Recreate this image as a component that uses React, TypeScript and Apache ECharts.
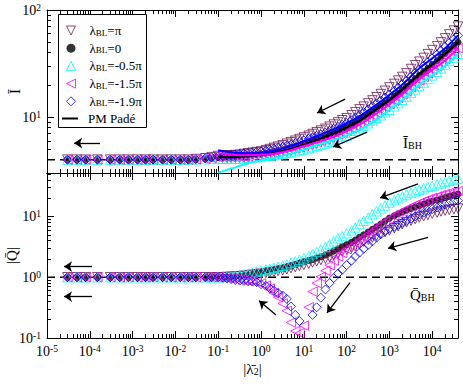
import React, { useEffect, useRef } from "react";
import * as echarts from "echarts";

const FONT = "'Liberation Serif', 'DejaVu Serif', serif";
const MAROON = "#6e1a55";

// axis ranges and reference levels
const xMin = 1e-5;
const xMax = 4e4;
const iMin = 3;
const iMax = 100;
const qMin = 0.1;
const qMax = 52;
const iBH = 4;
const qBH = 1;

// |lambda_2| sample points
const lambda2 = [
  3e-5, 5e-5, 8e-5, 1.5e-4, 3e-4, 5e-4, 8e-4, 1.3e-3, 2e-3, 3e-3, 5e-3, 8e-3, 0.013, 0.02, 0.03, 0.05, 0.07,
  0.1, 0.13, 0.16, 0.2, 0.25, 0.32, 0.4, 0.5, 0.63, 0.79,
  1, 1.3, 1.6, 2, 2.5, 3.2, 4, 5, 6.3, 7.9,
  10, 13, 16, 20, 25, 32, 40, 50, 63, 79,
  100, 130, 160, 200, 250, 320, 400, 500, 630, 790,
  1000, 1300, 1600, 2000, 2500, 3200, 4000, 5000, 6300, 7900,
  10000, 13000, 16000, 20000, 25000, 32000, 40000,
];

// top panel: I-bar
const iZero = [
  4, 4, 4, 4, 4, 4, 4, 4, 4, 4, 4, 4, 4, 4, 4.03, 4.08, 4.15,
  4.2, 4.21, 4.22, 4.23, 4.24, 4.25, 4.31, 4.36, 4.4, 4.45,
  4.5, 4.58, 4.66, 4.74, 4.83, 4.92, 5.05, 5.18, 5.31, 5.46,
  5.6, 5.78, 5.96, 6.15, 6.34, 6.55, 6.82, 7.1, 7.38, 7.69,
  8.0, 8.47, 8.95, 9.46, 10.0, 10.6, 11.3, 12.0, 12.8, 13.6,
  14.5, 15.6, 16.7, 18.0, 19.3, 21.1, 22.8, 24.5, 26.5, 28.6,
  31.0, 33.6, 36.3, 39.4, 42.7, 46.1, 50.0,
];
const iPi = [
  4, 4, 4, 4, 4, 4, 4, 4, 4, 4, 4, 4, 4, 4, 4.05, 4.12, 4.22,
  4.33, 4.35, 4.37, 4.39, 4.42, 4.44, 4.52, 4.58, 4.64, 4.7,
  4.77, 4.9, 5.02, 5.15, 5.29, 5.44, 5.63, 5.82, 6.01, 6.23,
  6.44, 6.69, 6.94, 7.2, 7.47, 7.76, 8.13, 8.51, 8.9, 9.33,
  9.76, 10.4, 11.1, 11.8, 12.5, 13.4, 14.3, 15.3, 16.4, 17.6,
  18.9, 20.4, 21.9, 23.7, 25.6, 28.1, 30.5, 32.9, 35.7, 38.7,
  42.2, 45.9, 49.8, 54.4, 59.2, 64.2, 70.0,
];
const iM05 = [
  4, 4, 4, 4, 4, 4, 4, 4, 4, 4, 4, 4, 4, 4, 4.02, 4.04, 4.06,
  4.07, 4.08, 4.08, 4.08, 4.08, 4.08, 4.13, 4.17, 4.2, 4.24,
  4.28, 4.32, 4.37, 4.42, 4.47, 4.53, 4.62, 4.7, 4.79, 4.89,
  4.98, 5.12, 5.24, 5.38, 5.52, 5.67, 5.87, 6.07, 6.27, 6.5,
  6.72, 7.09, 7.46, 7.86, 8.28, 8.75, 9.29, 9.83, 10.4, 11.1,
  11.7, 12.6, 13.5, 14.5, 15.5, 16.9, 18.2, 19.5, 21.0, 22.7,
  24.5, 26.5, 28.5, 30.9, 33.4, 36.0, 39.0,
];
const iM15 = [
  4, 4, 4, 4, 4, 4, 4, 4, 4, 4, 4, 4, 4, 4, 4.03, 4.08, 4.15,
  4.2, 4.2, 4.2, 4.2, 4.21, 4.21, 4.26, 4.3, 4.33, 4.37,
  4.41, 4.48, 4.55, 4.62, 4.69, 4.77, 4.89, 5.0, 5.12, 5.25,
  5.38, 5.53, 5.69, 5.85, 6.01, 6.19, 6.42, 6.67, 6.91, 7.17,
  7.44, 7.86, 8.29, 8.74, 9.22, 9.75, 10.4, 11.0, 11.7, 12.4,
  13.2, 14.2, 15.1, 16.3, 17.4, 19.0, 20.5, 22.0, 23.7, 25.5,
  27.6, 29.8, 32.2, 34.9, 37.7, 40.7, 44.0,
];
const iM19 = [
  4, 4, 4, 4, 4, 4, 4, 4, 4, 4, 4, 4, 4, 4, 4.05, 4.12, 4.2,
  4.28, 4.33, 4.37, 4.42, 4.46, 4.51, 4.57, 4.62, 4.66, 4.72,
  4.77, 4.86, 4.96, 5.05, 5.16, 5.26, 5.41, 5.56, 5.71, 5.89,
  6.05, 6.25, 6.46, 6.68, 6.9, 7.14, 7.45, 7.77, 8.09, 8.44,
  8.8, 9.33, 9.88, 10.5, 11.1, 11.8, 12.6, 13.4, 14.3, 15.2,
  16.2, 17.5, 18.8, 20.3, 21.8, 23.8, 25.8, 27.8, 30.1, 32.5,
  35.3, 38.4, 41.6, 45.3, 49.2, 53.3, 58.0,
];

// bottom panel: |Q-bar|
const qZero = [
  1, 1, 1, 1, 1, 1, 1, 1, 1, 1, 1, 1, 1, 1, 1, 1, 1,
  1.0, 1.01, 1.01, 1.02, 1.03, 1.05, 1.07, 1.09, 1.12, 1.16,
  1.2, 1.23, 1.27, 1.31, 1.36, 1.41, 1.47, 1.54, 1.62, 1.71,
  1.8, 1.88, 1.97, 2.07, 2.18, 2.32, 2.5, 2.72, 2.95, 3.2,
  3.45, 3.75, 4.1, 4.55, 5.0, 5.55, 6.15, 6.8, 7.55, 8.4,
  9.4, 10.3, 11.1, 11.9, 12.7, 13.5, 14.3, 15.1, 16.0, 16.9,
  17.8, 18.7, 19.6, 20.5, 21.5, 22.5, 23.5,
];
const qPi = [
  1, 1, 1, 1, 1, 1, 1, 1, 1, 1, 1, 1, 1, 1, 1, 1, 1,
  1.0, 1.0, 1.01, 1.02, 1.03, 1.04, 1.06, 1.08, 1.1, 1.12,
  1.15, 1.17, 1.2, 1.23, 1.27, 1.3, 1.35, 1.41, 1.47, 1.53,
  1.6, 1.67, 1.75, 1.83, 1.92, 2.02, 2.15, 2.3, 2.47, 2.65,
  2.85, 3.05, 3.28, 3.55, 3.85, 4.15, 4.5, 4.85, 5.2, 5.55,
  5.9, 6.4, 6.9, 7.45, 8.0, 8.5, 9.05, 9.6, 10.1, 10.6,
  11.1, 11.6, 12.1, 12.5, 12.9, 13.2, 13.5,
];
const qM05 = [
  1, 1, 1, 1, 1, 1, 1, 1, 1, 1, 1, 1, 1, 1, 1, 1, 1,
  1.0, 1.01, 1.02, 1.03, 1.05, 1.07, 1.1, 1.14, 1.18, 1.24,
  1.3, 1.34, 1.38, 1.43, 1.49, 1.55, 1.63, 1.72, 1.82, 1.93,
  2.05, 2.22, 2.4, 2.6, 2.88, 3.15, 3.5, 3.9, 4.35, 4.75,
  5.3, 5.9, 6.6, 7.5, 8.5, 9.6, 10.9, 12.2, 13.6, 15.2,
  17.0, 18.6, 20.0, 21.5, 23.0, 24.5, 26.0, 27.6, 29.2, 30.8,
  32.3, 33.8, 35.3, 37.0, 38.8, 40.5, 42.0,
];
const qM15 = [
  1, 1, 1, 1, 1, 1, 1, 1, 1, 1, 1, 1, 1, 1, 1, 1, 1,
  1.0, 0.99, 0.98, 0.96, 0.94, 0.92, 0.9, 0.88, 0.86, 0.84,
  0.79, 0.73, 0.65, 0.55, 0.47, 0.37, 0.28, 0.18, 0.13, 0.12,
  0.16, 0.32, 0.58, 0.8, 1.02, 1.28, 1.58, 1.88, 2.2, 2.5,
  2.9, 3.25, 3.65, 4.1, 4.6, 5.15, 5.8, 6.5, 7.3, 8.2,
  9.2, 10.2, 11.2, 12.2, 13.3, 14.4, 15.5, 16.7, 17.9, 19.1,
  20.3, 21.4, 22.5, 23.6, 24.6, 25.5, 26.3,
];
const qM19 = [
  1, 1, 1, 1, 1, 1, 1, 1, 1, 1, 1, 1, 1, 1, 1, 1, 1,
  1.0, 0.98, 0.96, 0.93, 0.9, 0.88, 0.87, 0.86, 0.85, 0.83,
  0.77, 0.72, 0.66, 0.6, 0.55, 0.5, 0.44, 0.33, 0.24, 0.19,
  null, null, 0.24, 0.32, 0.46, 0.63, 0.8, 0.97, 1.15, 1.33,
  1.58, 1.88, 2.2, 2.55, 2.95, 3.4, 3.9, 4.5, 5.1, 5.7,
  6.3, 6.8, 7.3, 7.9, 8.5, 9.2, 10.0, 10.8, 11.6, 12.4,
  13.2, 14.0, 14.8, 15.7, 16.6, 17.4, 18.2,
];

// PM Padé curves (top panel)
const padeX = [0.1, 0.2, 0.5, 1, 2, 5, 10, 20, 50, 100, 200, 500, 1000, 2000, 5000, 10000, 20000, 40000];
const padeZero = [4.25, 4.22, 4.3, 4.45, 4.65, 5.05, 5.55, 6.1, 7.0, 7.95, 9.2, 11.8, 14.4, 18.0, 25.3, 31.0, 38.5, 50.0];
const padeM19 = [4.9, 4.7, 4.6, 4.65, 4.85, 5.35, 5.95, 6.65, 7.7, 8.75, 10.2, 13.1, 16.1, 20.1, 28.5, 35.3, 44.0, 58.0];
const padeM15 = [4.6, 4.45, 4.4, 4.45, 4.55, 4.9, 5.35, 5.8, 6.55, 7.4, 8.5, 10.8, 13.1, 16.3, 22.6, 27.6, 33.8, 44.0];
const padeM05 = [3.02, 3.3, 3.7, 3.95, 4.15, 4.55, 4.95, 5.45, 6.1, 6.7, 7.6, 9.4, 11.7, 14.4, 20.0, 24.5, 30.0, 39.0];

// arrows [x1, y1, x2, y2] (from -> to, data coordinates)
const arrowsTop = [
  [92, 14.7, 20.3, 10.9],
  [300, 7.24, 48, 5.25],
  [1.73e-4, 5.71, 4.3e-5, 5.71],
];
const arrowsBottom = [
  [4660, 34.5, 603, 20.2],
  [7980, 4.55, 927, 2.99],
  [120, 0.817, 34.8, 0.26],
  [2.24, 0.24, 0.9, 0.41],
  [1.12e-4, 1.5, 2.5e-5, 1.5],
  [1.12e-4, 0.48, 2.5e-5, 0.48],
];

const legendLabels: Record<string, string> = {
  pi: "{l|λ}{s|BL}{l|=π}",
  zero: "{l|λ}{s|BL}{l|=0}",
  m05: "{l|λ}{s|BL}{l|=-0.5π}",
  m15: "{l|λ}{s|BL}{l|=-1.5π}",
  m19: "{l|λ}{s|BL}{l|=-1.9π}",
  pade: "PM Padé",
};

function pairs(xs: number[], ys: (number | null)[]) {
  return xs.map((x, i) => [x, ys[i]]).filter((p) => p[1] != null);
}

function majorTicks(lo: number, hi: number) {
  const out: number[] = [];
  for (let d = Math.floor(Math.log10(lo)) - 1; d <= Math.ceil(Math.log10(hi)) + 1; d++) {
    const v = Math.pow(10, d);
    if (v >= lo * 0.9999 && v <= hi * 1.0001) {
      out.push(Math.min(Math.max(v, lo * 1.000001), hi / 1.000001));
    }
  }
  return out;
}
function minorTicks(lo: number, hi: number) {
  const out: number[] = [];
  for (let d = Math.floor(Math.log10(lo)) - 1; d <= Math.ceil(Math.log10(hi)) + 1; d++) {
    for (let k = 2; k <= 9; k++) {
      const v = k * Math.pow(10, d);
      if (v > lo * 1.0001 && v < hi / 1.0001) out.push(v);
    }
  }
  return out;
}

const labelRich = {
  b: { fontFamily: FONT, fontSize: 14, lineHeight: 14, verticalAlign: "bottom", padding: [2, 0, 0, 0], color: "#000" },
  e: { fontFamily: FONT, fontSize: 9.5, lineHeight: 10, verticalAlign: "top", color: "#000" },
};
const powFormatter = (v: number) => `{b|10}{e|${Math.round(Math.log10(v))}}`;

function axis(gridIndex: number, position: string, min: number, max: number, values: number[], len: number, labels: boolean, extra: any = {}) {
  return {
    type: "log",
    logBase: 10,
    gridIndex,
    position,
    min,
    max,
    nameMoveOverlap: false,
    axisLine: { show: len > 5, onZero: false, lineStyle: { color: "#000", width: 1 } },
    axisTick: { show: true, inside: true, length: len, customValues: values, lineStyle: { color: "#000", width: 1 } },
    axisLabel: labels
      ? { show: true, customValues: values, formatter: powFormatter, rich: labelRich, margin: 6, color: "#000" }
      : { show: false },
    splitLine: { show: false },
    minorTick: { show: false },
    minorSplitLine: { show: false },
    ...extra,
  };
}

const MAJ = 7;
const MIN = 4;
const xMaj = majorTicks(xMin, xMax);
const xMinr = minorTicks(xMin, xMax);
const iMaj = majorTicks(iMin, iMax);
const iMinr = minorTicks(iMin, iMax);
const qMaj = majorTicks(qMin, qMax);
const qMinr = minorTicks(qMin, qMax);

const xAxes = [
  axis(0, "bottom", xMin, xMax, xMaj, MAJ, false),
  axis(0, "bottom", xMin, xMax, xMinr, MIN, false),
  axis(0, "top", xMin, xMax, xMaj, MAJ, false),
  axis(0, "top", xMin, xMax, xMinr, MIN, false),
  axis(1, "bottom", xMin, xMax, xMaj, MAJ, true, {
    name: "|λ\u0304{sub|2}|",
    nameLocation: "middle",
    nameGap: 23,
    nameTextStyle: {
      fontFamily: FONT,
      fontSize: 15,
      color: "#000",
      rich: {
        sub: { fontFamily: FONT, fontSize: 10, lineHeight: 10, verticalAlign: "bottom", padding: [8, 0, 0, 0] },
      },
    },
  }),
  axis(1, "bottom", xMin, xMax, xMinr, MIN, false),
  axis(1, "top", xMin, xMax, xMaj, MAJ, false),
  axis(1, "top", xMin, xMax, xMinr, MIN, false),
];
const yAxes = [
  axis(0, "left", iMin, iMax, iMaj, MAJ, true, {
    name: "Ī",
    nameLocation: "middle",
    nameGap: 25,
    nameTextStyle: { fontFamily: FONT, fontSize: 15, color: "#000" },
  }),
  axis(0, "left", iMin, iMax, iMinr, MIN, false),
  axis(0, "right", iMin, iMax, iMaj, MAJ, false),
  axis(0, "right", iMin, iMax, iMinr, MIN, false),
  axis(1, "left", qMin, qMax, qMaj, MAJ, true, {
    name: "|Q\u0304|",
    nameLocation: "middle",
    nameGap: 28,
    nameTextStyle: { fontFamily: FONT, fontSize: 15, color: "#000" },
  }),
  axis(1, "left", qMin, qMax, qMinr, MIN, false),
  axis(1, "right", qMin, qMax, qMaj, MAJ, false),
  axis(1, "right", qMin, qMax, qMinr, MIN, false),
];

const markerDefs = [
  { name: "zero", top: iZero, bottom: qZero, symbol: "circle", rotate: 0, size: 7, color: "#000", hollow: false, icon: "circle" },
  { name: "pi", top: iPi, bottom: qPi, symbol: "triangle", rotate: 180, size: 9.5, color: MAROON, hollow: true, icon: "path://M0,0L10,0L5,10Z" },
  { name: "m05", top: iM05, bottom: qM05, symbol: "triangle", rotate: 0, size: 9.5, color: "#00ffff", hollow: true, icon: "path://M5,0L10,10L0,10Z" },
  { name: "m15", top: iM15, bottom: qM15, symbol: "triangle", rotate: 90, size: 9.5, color: "#ff00ff", hollow: true, icon: "path://M10,0L10,10L0,5Z" },
  { name: "m19", top: iM19, bottom: qM19, symbol: "diamond", rotate: 0, size: 9, color: "#0000ff", hollow: true, icon: "path://M5,0L10,5L5,10L0,5Z" },
];
const legendOrder = ["pi", "zero", "m05", "m15", "m19"];

function scatter(def: any, panel: number) {
  return {
    type: "scatter",
    name: def.name,
    xAxisIndex: panel * 4,
    yAxisIndex: panel * 4,
    data: pairs(lambda2, panel === 0 ? def.top : def.bottom),
    symbol: def.symbol,
    symbolRotate: def.rotate,
    symbolSize: def.size,
    itemStyle: def.hollow
      ? { color: "rgba(255,255,255,0)", borderColor: def.color, borderWidth: 1 }
      : { color: def.color, borderColor: def.color, borderWidth: 0 },
    emphasis: { disabled: true },
    silent: true,
    z: 3,
  };
}

function padeLine(name: string, ys: number[], color: string) {
  return {
    type: "line",
    name,
    xAxisIndex: 0,
    yAxisIndex: 0,
    data: pairs(padeX, ys),
    symbol: "none",
    showSymbol: false,
    smooth: 0.3,
    lineStyle: { color, width: 2 },
    itemStyle: { color },
    emphasis: { disabled: true },
    silent: true,
    z: 4,
  };
}

function refLine(name: string, panel: number, level: number, arrows: number[][]) {
  return {
    type: "line",
    name,
    xAxisIndex: panel * 4,
    yAxisIndex: panel * 4,
    data: [
      [xMin, level],
      [xMax, level],
    ],
    symbol: "none",
    lineStyle: { color: "#000", width: 1.5, type: [8, 5] },
    emphasis: { disabled: true },
    silent: true,
    z: 2,
    markLine: {
      silent: true,
      symbol: ["none", "arrow"],
      symbolSize: 8,
      label: { show: false },
      lineStyle: { color: "#000", width: 1.3, type: "solid" },
      emphasis: { disabled: true },
      data: arrows.map((a) => [{ coord: [a[0], a[1]] }, { coord: [a[2], a[3]] }]),
    },
  };
}

const series: any[] = [
  refLine("ibh", 0, iBH, arrowsTop),
  refLine("qbh", 1, qBH, arrowsBottom),
  ...markerDefs.map((d) => scatter(d, 0)),
  ...markerDefs.map((d) => scatter(d, 1)),
  padeLine("pade", padeZero, "#000"),
  padeLine("pade-m19", padeM19, "#0000ff"),
  padeLine("pade-m15", padeM15, "#ff00ff"),
  padeLine("pade-m05", padeM05, "#00ffff"),
];

const legendText = {
  fontFamily: FONT,
  fontSize: 13,
  color: "#000",
  padding: [0, 0, 0, 9],
  rich: {
    l: { fontFamily: FONT, fontSize: 13, lineHeight: 13, verticalAlign: "top", color: "#000" },
    s: { fontFamily: FONT, fontSize: 9, lineHeight: 9, verticalAlign: "bottom", padding: [7, 0, 0, 0], color: "#000" },
  },
};

const option: any = {
  animation: false,
  backgroundColor: "#fff",
  grid: [
    { left: 47, top: 10, width: 411, height: 163, containLabel: false, outerBoundsMode: "none" },
    { left: 47, top: 173, width: 411, height: 165, containLabel: false, outerBoundsMode: "none" },
  ],
  xAxis: xAxes,
  yAxis: yAxes,
  legend: [
    {
      data: legendOrder.map((n) => {
        const d = markerDefs.find((m) => m.name === n)!;
        return {
          name: n,
          icon: d.icon,
          symbolRotate: 0,
          itemStyle: d.hollow
            ? { color: "rgba(255,255,255,0)", borderColor: d.color, borderWidth: 1 }
            : { color: d.color, borderColor: d.color, borderWidth: 0 },
        };
      }),
      orient: "vertical",
      left: 66,
      top: 21,
      padding: 0,
      itemWidth: 9,
      itemHeight: 9,
      itemGap: 1.7,
      selectedMode: false,
      symbolKeepAspect: true,
      formatter: (name: string) => legendLabels[name] || name,
      textStyle: legendText,
      z: 6,
    },
    {
      data: [{ name: "pade", icon: "rect" }],
      orient: "vertical",
      left: 62,
      top: 112,
      padding: 0,
      itemWidth: 16,
      itemHeight: 2,
      selectedMode: false,
      formatter: (name: string) => legendLabels[name] || name,
      textStyle: { fontFamily: FONT, fontSize: 13, color: "#000", padding: [0, 0, 0, 5] },
      z: 6,
    },
  ],
  graphic: [
    {
      type: "rect",
      left: 58,
      top: 14,
      z: 5,
      shape: { x: 0, y: 0, width: 88, height: 113 },
      style: { fill: "#fff", stroke: "#000", lineWidth: 1 },
    },
    {
      type: "text",
      left: 403,
      top: 131,
      z: 10,
      style: {
        text: "{b|Ī}{s|BH}",
        fill: "#000",
        rich: {
          b: { fontFamily: FONT, fontSize: 15, lineHeight: 15, verticalAlign: "top", fill: "#000" },
          s: { fontFamily: FONT, fontSize: 10, lineHeight: 10, verticalAlign: "bottom", padding: [9, 0, 0, 0], fill: "#000" },
        },
      },
    },
    {
      type: "text",
      left: 410,
      top: 283,
      z: 10,
      style: {
        text: "{b|Q\u0304}{s|BH}",
        fill: "#000",
        rich: {
          b: { fontFamily: FONT, fontSize: 15, lineHeight: 15, verticalAlign: "top", fill: "#000" },
          s: { fontFamily: FONT, fontSize: 10, lineHeight: 10, verticalAlign: "bottom", padding: [9, 0, 0, 0], fill: "#000" },
        },
      },
    },
  ],
  series,
};

export default function App() {
  const ref = useRef<HTMLDivElement>(null);
  useEffect(() => {
    document.body.style.margin = "0";
    if (!ref.current) return;
    const chart = echarts.init(ref.current, null, { renderer: "svg" });
    chart.setOption(option);
    return () => chart.dispose();
  }, []);
  return <div ref={ref} style={{ width: 463, height: 384, background: "#fff" }} />;
}
